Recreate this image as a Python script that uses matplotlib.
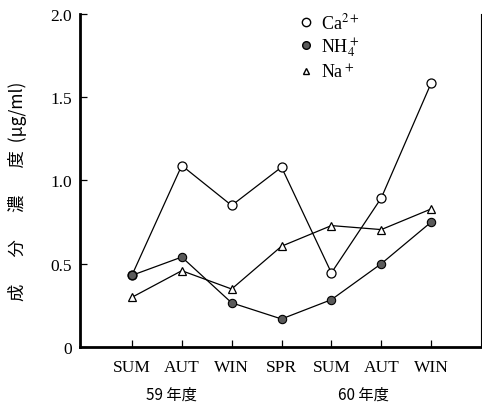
import matplotlib.pyplot as plt
from matplotlib.lines import Line2D

seasons = ["SUM", "AUT", "WIN", "SPR", "SUM", "AUT", "WIN"]
ca = [0.43, 1.09, 0.85, 1.08, 0.445, 0.895, 1.585]
nh4 = [0.43, 0.54, 0.265, 0.168, 0.284, 0.50, 0.75]
na = [0.298, 0.458, 0.348, 0.605, 0.729, 0.705, 0.829]
year_labels = ["59 年度", "60 年度"]
year_pos = [0.8, 4.65]

serif = ["Liberation Serif", "DejaVu Serif"]
plt.rcParams["font.family"] = serif
plt.rcParams["mathtext.fontset"] = "stix"

fig = plt.figure(figsize=(4.82, 4.06), dpi=100)
ax = fig.add_axes([0.166, 0.143, 0.832, 0.820])

x = range(len(seasons))
ax.plot(x, ca, color="black", lw=0.9, marker="o", ms=6.5,
        mfc="white", mec="black", mew=0.9, zorder=3)
ax.plot(x, na, color="black", lw=0.9, marker="^", ms=5.5,
        mfc="white", mec="black", mew=0.9, zorder=3)
ax.plot(x, nh4, color="black", lw=0.9, marker="o", ms=6,
        mfc="#5a5a5a", mec="black", mew=0.8, zorder=4)

ax.set_xlim(-1.04, 7.0)
ax.set_ylim(0, 2.0)
ax.set_xticks(list(x))
ax.set_xticklabels(seasons, fontsize=12.5)
ax.set_yticks([0, 0.5, 1.0, 1.5, 2.0])
ax.set_yticklabels(["0", "0.5", "1.0", "1.5", "2.0"], fontsize=12.5)
ax.tick_params(axis="both", direction="in", length=5, width=0.9, colors="black")
ax.tick_params(axis="x", pad=9)
ax.tick_params(axis="y", pad=6)

ax.spines["top"].set_visible(False)
ax.spines["left"].set_linewidth(2.0)
ax.spines["bottom"].set_linewidth(2.0)
ax.spines["right"].set_linewidth(0.8)

for label, pos in zip(year_labels, year_pos):
    ax.text(pos, -0.142, label, ha="center", va="center", fontsize=11,
            family=["Noto Sans CJK JP", "DejaVu Sans"],
            transform=ax.get_xaxis_transform())

fig.text(0.037, 0.53, "成       分       濃       度  (μg/ml)", rotation=90,
         ha="center", va="center", fontsize=12.5,
         family=["Noto Sans CJK JP", "DejaVu Sans"])

handles = [
    Line2D([], [], ls="none", marker="o", ms=6, mfc="white", mec="black"),
    Line2D([], [], ls="none", marker="o", ms=5.5, mfc="#5a5a5a", mec="black"),
    Line2D([], [], ls="none", marker="^", ms=5, mfc="white", mec="black"),
]
ax.legend(handles, ["Ca$^{2+}$", "NH$_4^+$", "Na$^+$"], loc="upper left",
          bbox_to_anchor=(0.5, 1.055), frameon=False, fontsize=13,
          handlelength=1.0, handletextpad=0.35, labelspacing=0.2)

fig.savefig("out.png", dpi=100)
